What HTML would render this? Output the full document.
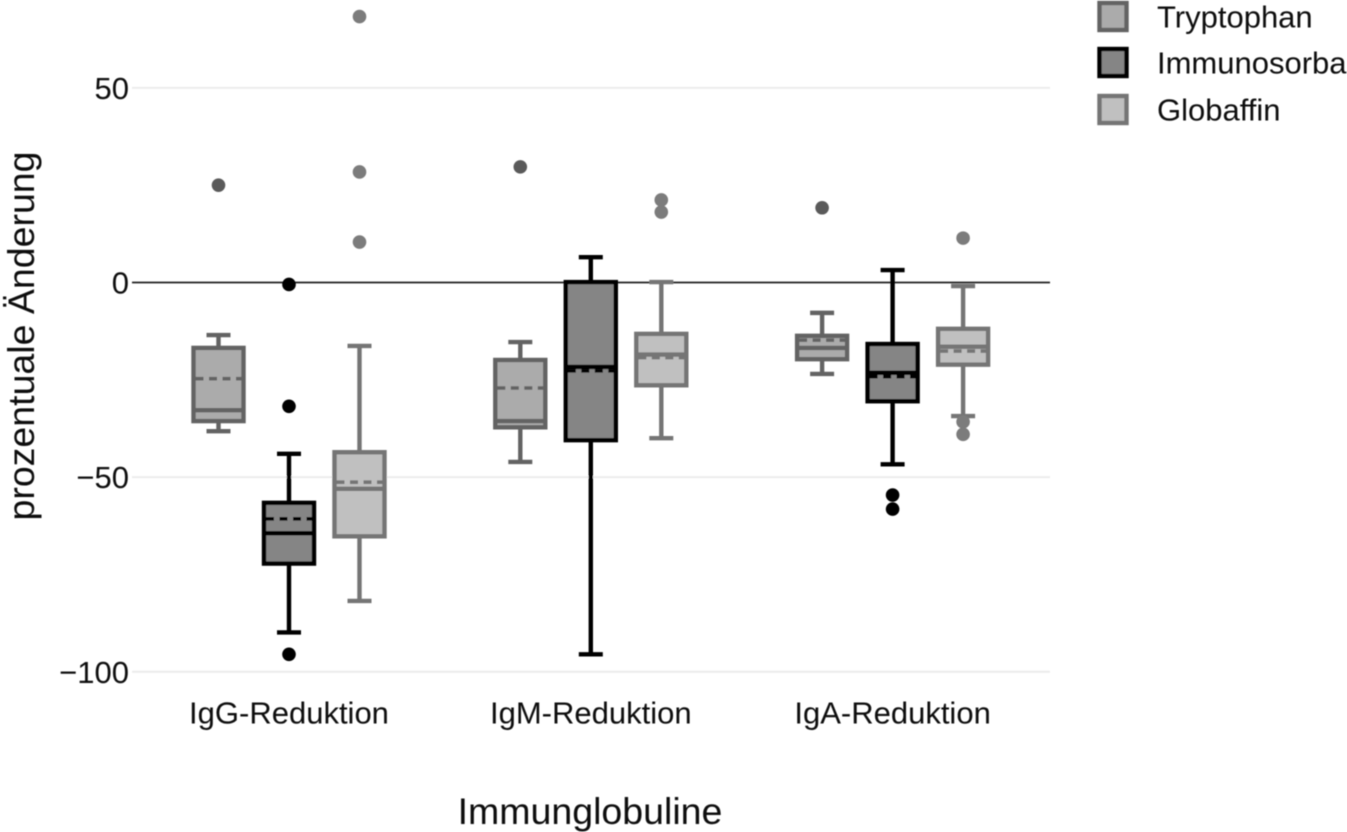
<!DOCTYPE html>
<html lang="de">
<head>
<meta charset="utf-8">
<title>Immunglobuline</title>
<style>
html,body{margin:0;padding:0;background:#fff;width:1347px;height:832px;overflow:hidden}
svg{display:block;font-family:"Liberation Sans",sans-serif;fill:#0c0c0c}
</style>
</head>
<body>
<svg id="chart" xmlns="http://www.w3.org/2000/svg" width="1347" height="832" viewBox="0 0 1347 832">
  <g id="plot" filter="url(#soft)"></g>
  <defs><filter id="soft" x="-5%" y="-5%" width="110%" height="110%"><feGaussianBlur stdDeviation="0.4"/></filter></defs>
</svg>
<script>
const categories = ['IgG-Reduktion', 'IgM-Reduktion', 'IgA-Reduktion'];
const seriesNames = ['Tryptophan', 'Immunosorba', 'Globaffin'];
const yTicks = [50, 0, -50, -100];

// each entry: one category; values [lower whisker, q1, median, q3, upper whisker, mean]
const tryptophanStats = [
  [-38.2, -35.6, -32.8, -16.8, -13.5, -24.7],
  [-46.1, -37.2, -35.6, -19.9, -15.3, -27.1],
  [-23.5, -19.7, -16.8, -13.7, -7.8, -14.8]
];
const immunosorbaStats = [
  [-89.9, -72.2, -64.4, -56.6, -44.0, -60.7],
  [-95.5, -40.5, -21.7, 0.1, 6.5, -22.7],
  [-46.7, -30.5, -23.2, -15.8, 3.2, -24.2]
];
const globaffinStats = [
  [-81.8, -65.2, -53.0, -43.6, -16.3, -51.3],
  [-40.0, -26.4, -18.5, -13.2, 0.1, -19.3],
  [-34.3, -21.1, -16.5, -11.9, -0.9, -17.6]
];
const tryptophanOutliers = [[25], [29.7], [19.2]];
const immunosorbaOutliers = [[-0.5, -31.8, -95.5], [], [-54.6, -58.2]];
const globaffinOutliers = [[10.4, 28.4, 68.3], [21.2, 18.1], [11.4, -35.8, -39]];

const statsBySeries = [tryptophanStats, immunosorbaStats, globaffinStats];
const outliersBySeries = [tryptophanOutliers, immunosorbaOutliers, globaffinOutliers];
const fills = ['#ababab', '#858585', '#c0c0c0'];
const strokes = ['#636363', '#000000', '#747474'];
const dotFills = ['#5a5a5a', '#000000', '#7c7c7c'];

const SVGNS = 'http://www.w3.org/2000/svg';
const plot = document.getElementById('plot');

function yScale(v) { return 282.5 - 3.893 * v; }
function xScale(catIndex, seriesIndex) { return 218.5 + 301.8 * catIndex + 70.5 * seriesIndex; }

function make(tag, attrs, parent) {
  const el = document.createElementNS(SVGNS, tag);
  for (const k in attrs) el.setAttribute(k, attrs[k]);
  (parent || plot).appendChild(el);
  return el;
}
function slug(s) { return s.toLowerCase().replace(/[^a-z0-9]+/g, '-'); }

// y gridlines and tick labels
yTicks.forEach(function (t) {
  const y = yScale(t);
  const line = make('line', { x1: 132, x2: 1050, y1: y, y2: y, stroke: t === 0 ? '#222222' : '#ececec', 'stroke-width': t === 0 ? 1.8 : 2 });
  
  
  const label = make('text', { x: 129, y: y + 11, 'text-anchor': 'end', 'font-size': 31 });
  label.textContent = String(t).replace('-', '\u2212');
  
  
});

// category labels
categories.forEach(function (c, i) {
  const label = make('text', { x: xScale(i, 1), y: 723.5, 'text-anchor': 'middle', 'font-size': 31 });
  label.textContent = c;
  
  
});

// boxes
seriesNames.forEach(function (name, s) {
  const stats = statsBySeries[s];
  categories.forEach(function (cat, c) {
    const x = xScale(c, s);
    const d = stats[c];
    const group = make('g', {});
    
    
    const st = { stroke: strokes[s], 'stroke-width': 4.4, fill: 'none' };
    make('line', Object.assign({ x1: x, x2: x, y1: yScale(d[4]), y2: yScale(d[3]) }, st), group);
    make('line', Object.assign({ x1: x, x2: x, y1: yScale(d[1]), y2: yScale(d[0]) }, st), group);
    make('line', Object.assign({ x1: x - 12, x2: x + 12, y1: yScale(d[4]), y2: yScale(d[4]) }, st), group);
    make('line', Object.assign({ x1: x - 12, x2: x + 12, y1: yScale(d[0]), y2: yScale(d[0]) }, st), group);
    make('rect', { x: x - 25, y: yScale(d[3]), width: 50, height: yScale(d[1]) - yScale(d[3]), fill: fills[s], stroke: strokes[s], 'stroke-width': 4.4 }, group);
    make('line', Object.assign({ x1: x - 23, x2: x + 23, y1: yScale(d[5]), y2: yScale(d[5]), 'stroke-dasharray': '8 5.5' }, st, { 'stroke-width': 3.6 }), group);
    make('line', Object.assign({ x1: x - 25, x2: x + 25, y1: yScale(d[2]), y2: yScale(d[2]) }, st), group);
    outliersBySeries[s][c].forEach(function (v) {
      const dot = make('circle', { cx: x, cy: yScale(v), r: 6.8, fill: dotFills[s] }, group);
      
      
    });
  });
});

// legend
const legendY = [16.5, 62.5, 109.5];
seriesNames.forEach(function (name, s) {
  const y = legendY[s];
  const entry = make('g', {});
  
  
  make('rect', { x: 1099.5, y: y - 13.5, width: 27, height: 27, fill: fills[s], stroke: strokes[s], 'stroke-width': 4.4 }, entry);
  const label = make('text', { x: 1157, y: y + 11, 'font-size': 31 }, entry);
  label.textContent = name;
});

// axis titles
const yTitle = make('text', { transform: 'translate(34,336) rotate(-90)', 'text-anchor': 'middle', 'font-size': 37.5 });
yTitle.textContent = 'prozentuale \u00c4nderung';



const xTitle = make('text', { x: 590, y: 824, 'text-anchor': 'middle', 'font-size': 37.5 });
xTitle.textContent = 'Immunglobuline';


</script>
</body>
</html>
